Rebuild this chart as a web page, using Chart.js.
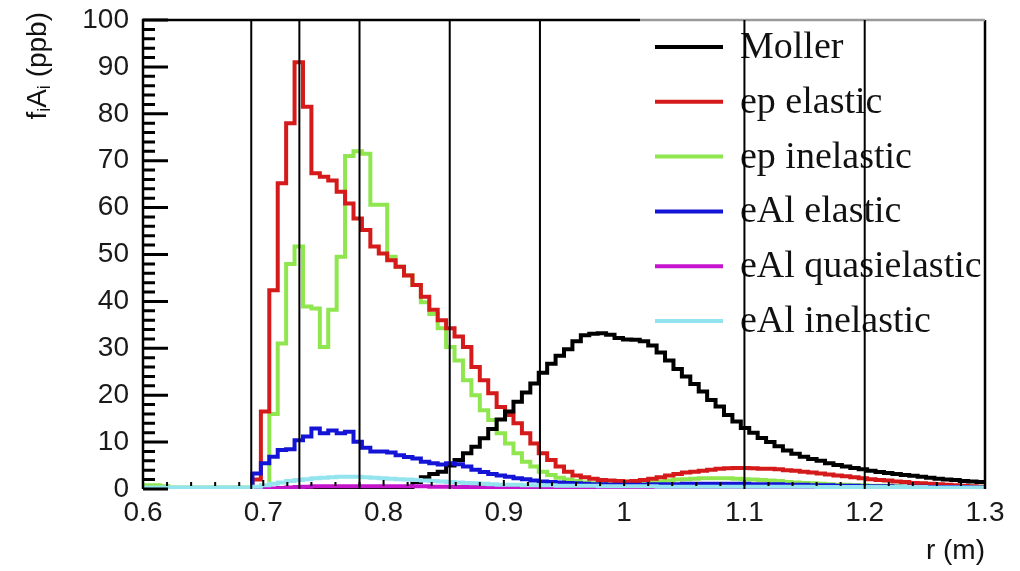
<!DOCTYPE html>
<html>
<head>
<meta charset="utf-8">
<script src="https://cdn.jsdelivr.net/npm/chart.js@4.4.0/dist/chart.umd.min.js"></script>
<style>
  html, body { margin: 0; padding: 0; background: #fff; }
  #wrap { width: 1020px; height: 571px; }
</style>
</head>
<body>
<div id="wrap"><canvas id="rChart" width="1020" height="571"></canvas></div>
<script>
// r histogram: 100 bins from 0.6 to 1.3 m
const rMin = 0.6;
const rMax = 1.3;
const nBins = 100;

const seriesNames = ['Moller', 'ep elastic', 'ep inelastic', 'eAl elastic', 'eAl quasielastic', 'eAl inelastic'];

const moller = [
  0, 0, 0, 0, 0, 0, 0, 0, 0, 0,
  0, 0, 0, 0, 0, 0, 0, 0, 0, 0,
  0, 0, 0, 0, 0, 0, 0, 0, 0, 0,
  0, 0, 1.5, 2.5, 3.2, 3.7, 5.0, 6.2, 7.6, 9.0,
  10.8, 12.8, 14.8, 16.5, 18.6, 20.6, 22.5, 24.8, 26.7, 28.4,
  29.8, 31.5, 32.8, 33.1, 33.2, 32.9, 32.2, 31.9, 31.8, 31.5,
  30.6, 29.1, 27.4, 25.6, 24.0, 22.4, 20.8, 19.0, 17.6, 15.8,
  14.4, 13.0, 12.0, 10.9, 10.0, 9.1, 8.2, 7.5, 6.9, 6.4,
  6.0, 5.5, 5.1, 4.8, 4.5, 4.2, 3.9, 3.6, 3.4, 3.2,
  3.0, 2.8, 2.6, 2.4, 2.2, 2.0, 1.9, 1.7, 1.6, 1.5
];

const epElastic = [
  0, 0, 0, 0, 0, 0, 0, 0, 0, 0,
  0, 0, 0, 2.0, 16.5, 42.4, 65.2, 78.0, 91.0, 81.5,
  67.3, 66.6, 65.8, 63.4, 60.9, 57.7, 55.2, 51.7, 50.2, 48.8,
  47.4, 45.5, 43.5, 41.0, 38.2, 36.0, 34.3, 32.5, 30.3, 26.0,
  23.2, 20.4, 17.5, 15.8, 14.0, 11.9, 9.7, 7.6, 6.2, 4.8,
  3.7, 2.9, 2.5, 2.2, 1.9, 1.8, 1.7, 1.6, 1.7, 1.9,
  2.2, 2.5, 2.9, 3.2, 3.5, 3.7, 3.9, 4.1, 4.3, 4.4,
  4.5, 4.5, 4.4, 4.3, 4.3, 4.2, 4.0, 3.9, 3.7, 3.5,
  3.3, 3.1, 2.9, 2.7, 2.5, 2.3, 2.1, 1.9, 1.8, 1.6,
  1.5, 1.3, 1.2, 1.1, 1.0, 0.9, 0.8, 0.7, 0.6, 0.5
];

const epInelastic = [
  0.8, 0.8, 0.6, 0.3, 0.3, 0.3, 0.3, 0.3, 0.3, 0.3,
  0.3, 0.3, 0.3, 0.3, 0.3, 16.0, 31.0, 48.0, 51.7, 38.9,
  38.5, 30.3, 38.2, 49.5, 71.0, 72.0, 71.5, 60.6, 60.6, 49.5,
  47.4, 45.6, 43.5, 39.8, 37.3, 34.3, 30.3, 27.4, 23.2, 20.0,
  16.8, 14.7, 11.9, 9.7, 7.6, 5.8, 4.8, 3.7, 3.0, 2.4,
  2.0, 1.7, 1.4, 1.2, 1.1, 1.0, 1.0, 1.0, 1.1, 1.2,
  1.4, 1.6, 1.8, 2.0, 2.1, 2.2, 2.3, 2.3, 2.3, 2.3,
  2.2, 2.1, 2.0, 1.9, 1.8, 1.7, 1.5, 1.4, 1.3, 1.2,
  1.1, 1.0, 0.9, 0.9, 0.8, 0.8, 0.7, 0.7, 0.6, 0.6,
  0.5, 0.5, 0.5, 0.5, 0.5, 0.5, 0.5, 0.5, 0.5, 0.5
];

const eAlElastic = [
  0, 0, 0, 0, 0, 0, 0, 0, 0, 0,
  0, 0, 0, 3.3, 5.5, 6.9, 8.3, 8.5, 10.4, 11.2,
  12.9, 11.9, 12.5, 11.9, 12.2, 10.1, 8.8, 8.0, 8.0, 7.8,
  7.2, 6.8, 6.5, 5.8, 5.5, 5.2, 5.5, 5.3, 4.8, 4.1,
  3.6, 3.2, 2.9, 2.6, 2.3, 2.1, 1.8, 1.6, 1.5, 1.4,
  1.3, 1.2, 1.1, 1.0, 1.0, 0.9, 0.9, 0.9, 0.9, 0.9,
  1.0, 1.0, 1.0, 1.0, 1.1, 1.1, 1.1, 1.1, 1.1, 1.1,
  1.1, 1.1, 1.0, 1.0, 1.0, 1.0, 0.9, 0.9, 0.9, 0.8,
  0.8, 0.8, 0.7, 0.7, 0.7, 0.6, 0.6, 0.6, 0.6, 0.5,
  0.5, 0.5, 0.5, 0.4, 0.4, 0.4, 0.4, 0.4, 0.3, 0.3
];

const eAlQuasi = [
  0, 0, 0, 0, 0, 0, 0, 0, 0, 0,
  0, 0, 0, 0, 0, 0.1, 0.2, 0.3, 0.4, 0.5,
  0.6, 0.6, 0.6, 0.6, 0.6, 0.6, 0.6, 0.6, 0.6, 0.6,
  0.6, 0.6, 0.6, 0.6, 0.5, 0.5, 0.5, 0.4, 0.4, 0.4,
  0.3, 0.3, 0.3, 0.3, 0.2, 0.2, 0.2, 0.2, 0.1, 0.1,
  0.1, 0.1, 0.1, 0.1, 0.1, 0.1, 0, 0, 0, 0,
  0, 0, 0, 0, 0, 0, 0, 0, 0, 0,
  0, 0, 0, 0, 0, 0, 0, 0, 0, 0,
  0, 0, 0, 0, 0, 0, 0, 0, 0, 0,
  0, 0, 0, 0, 0, 0, 0, 0, 0, 0
];

const eAlInelastic = [
  0.3, 0.3, 0.3, 0.3, 0.3, 0.3, 0.3, 0.3, 0.3, 0.3,
  0.3, 0.3, 0.3, 0.5, 0.8, 1.1, 1.4, 1.7, 1.9, 2.1,
  2.3, 2.4, 2.5, 2.6, 2.6, 2.6, 2.5, 2.4, 2.3, 2.2,
  2.1, 2.0, 1.9, 1.8, 1.7, 1.6, 1.5, 1.4, 1.3, 1.2,
  1.1, 1.0, 0.9, 0.9, 0.9, 0.8, 0.8, 0.8, 0.8, 0.7,
  0.7, 0.7, 0.7, 0.7, 0.6, 0.6, 0.6, 0.6, 0.6, 0.6,
  0.6, 0.5, 0.5, 0.5, 0.5, 0.5, 0.5, 0.5, 0.5, 0.5,
  0.5, 0.5, 0.5, 0.5, 0.5, 0.5, 0.5, 0.5, 0.5, 0.5,
  0.4, 0.4, 0.4, 0.4, 0.4, 0.4, 0.4, 0.4, 0.4, 0.4,
  0.4, 0.4, 0.4, 0.3, 0.3, 0.3, 0.3, 0.3, 0.3, 0.3
];

// vertical cut lines (r in m)
const cutLines = [0.69, 0.73, 0.78, 0.855, 0.93, 1.1, 1.2];

const seriesValues = [moller, epElastic, epInelastic, eAlElastic, eAlQuasi, eAlInelastic];
const colors = ['#000000', '#d41a1a', '#8fe64f', '#1414d6', '#c414cc', '#93e4ee'];
const drawOrder = [3, 4, 5, 2, 1, 0]; // lower = on top

const binWidth = (rMax - rMin) / nBins;

function toSteps(values) {
  const pts = values.map((v, i) => ({ x: rMin + i * binWidth, y: v }));
  pts.push({ x: rMax, y: values[values.length - 1] });
  return pts;
}

const datasets = [];
for (let i = 0; i < seriesValues.length; i++) {
  datasets.push({
    label: seriesNames[i],
    data: toSteps(seriesValues[i]),
    borderColor: colors[i],
    backgroundColor: 'transparent',
    borderWidth: 4,
    pointRadius: 0,
    stepped: true,
    fill: false,
    order: drawOrder[i],
    clip: { left: 3, top: 3, right: 3, bottom: 0 }
  });
}

const legendBox = { left: 640, lineX0: 655, lineX1: 723, textX: 740, firstY: 47, stepY: 54.8 };

const rootStyle = {
  id: 'rootStyle',
  afterDatasetsDraw(chart) {
    const { ctx, chartArea: a } = chart;
    const xs = chart.scales.x, ys = chart.scales.y;
    ctx.save();
    ctx.setLineDash([]);
    ctx.globalAlpha = 1;

    // axis ticks, drawn inward like ROOT
    ctx.strokeStyle = '#000000';
    ctx.lineWidth = 3;
    ctx.beginPath();
    for (let v = 0; v <= 100; v += 2) {
      const py = ys.getPixelForValue(v);
      const len = v % 10 === 0 ? 25 : 12;
      ctx.moveTo(a.left, py);
      ctx.lineTo(a.left + len, py);
    }
    ctx.stroke();
    ctx.lineWidth = 2;
    ctx.beginPath();
    for (let i = 0; i <= 35; i++) {
      const px = xs.getPixelForValue(rMin + i * 0.02);
      const len = i % 5 === 0 ? 9 : 7;
      ctx.moveTo(px, a.bottom - 3);
      ctx.lineTo(px, a.bottom - len);
    }
    ctx.stroke();

    // frame
    ctx.lineWidth = 2.5;
    ctx.beginPath();
    ctx.moveTo(a.left, a.bottom);
    ctx.lineTo(a.left, a.top);
    ctx.lineTo(legendBox.left, a.top);
    ctx.moveTo(a.right, a.top);
    ctx.lineTo(a.right, a.bottom);
    ctx.stroke();
    ctx.strokeStyle = '#9a9a9a';
    ctx.beginPath();
    ctx.moveTo(legendBox.left, a.top);
    ctx.lineTo(a.right, a.top);
    ctx.stroke();

    // legend
    ctx.font = '38px "Liberation Serif", "Times New Roman", serif';
    ctx.textBaseline = 'middle';
    ctx.textAlign = 'left';
    for (let i = 0; i < seriesNames.length; i++) {
      const y = legendBox.firstY + i * legendBox.stepY;
      ctx.strokeStyle = colors[i];
      ctx.lineWidth = 4;
      ctx.beginPath();
      ctx.moveTo(legendBox.lineX0, y);
      ctx.lineTo(legendBox.lineX1, y);
      ctx.stroke();
      ctx.fillStyle = '#111';
      ctx.fillText(seriesNames[i], legendBox.textX, y + 1);
    }

    // cut lines
    ctx.strokeStyle = '#000';
    ctx.lineWidth = 2;
    ctx.beginPath();
    cutLines.forEach(r => {
      const px = xs.getPixelForValue(r);
      ctx.moveTo(px, a.top);
      ctx.lineTo(px, a.bottom);
    });
    ctx.stroke();

    // x axis title
    ctx.fillStyle = '#111';
    ctx.font = '28px "Liberation Sans", Arial, sans-serif';
    ctx.textAlign = 'right';
    ctx.textBaseline = 'middle';
    ctx.fillText('r (m)', a.right, 551);

    // y axis title: f_i A_i (ppb)
    const big = '28px "Liberation Sans", Arial, sans-serif';
    const small = '18px "Liberation Sans", Arial, sans-serif';
    const parts = [['f', big, 0], ['i', small, 7], ['A', big, 0], ['i', small, 7], [' (ppb)', big, 0]];
    let total = 0;
    parts.forEach(p => { ctx.font = p[1]; total += ctx.measureText(p[0]).width; });
    ctx.translate(38, 12 + total);
    ctx.rotate(-Math.PI / 2);
    ctx.textAlign = 'left';
    ctx.textBaseline = 'middle';
    let xo = 0;
    parts.forEach(p => {
      ctx.font = p[1];
      ctx.fillText(p[0], xo, p[2]);
      xo += ctx.measureText(p[0]).width;
    });
    ctx.restore();
  }
};

new Chart(document.getElementById('rChart').getContext('2d'), {
  type: 'line',
  data: { datasets: datasets },
  options: {
    responsive: false,
    animation: false,
    layout: { padding: { left: 0, top: 20, right: 35, bottom: 0 } },
    plugins: {
      legend: { display: false },
      tooltip: { enabled: false },
      title: { display: false }
    },
    scales: {
      x: {
        type: 'linear',
        min: rMin,
        max: rMax,
        grid: { display: false, drawTicks: false },
        border: { display: false },
        ticks: {
          stepSize: 0.1,
          padding: 7,
          color: '#1a1a1a',
          font: { family: '"Liberation Sans", Arial, sans-serif', size: 28 },
          maxRotation: 0,
          callback: v => String(parseFloat(Number(v).toFixed(2)))
        },
        afterFit: s => { s.height = 82; s.paddingLeft = 0; s.paddingRight = 0; }
      },
      y: {
        min: 0,
        max: 100,
        grid: { display: false, drawTicks: false },
        border: { display: false },
        ticks: {
          stepSize: 10,
          padding: 14,
          color: '#1a1a1a',
          font: { family: '"Liberation Sans", Arial, sans-serif', size: 28 }
        },
        afterFit: s => { s.width = 143; s.paddingTop = 0; s.paddingBottom = 0; }
      }
    }
  },
  plugins: [rootStyle]
});
</script>
</body>
</html>
